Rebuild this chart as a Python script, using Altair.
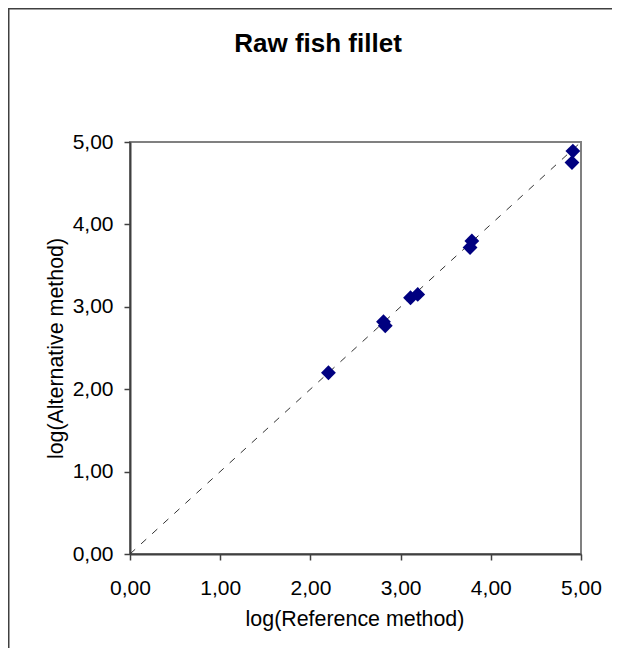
import altair as alt
import pandas as pd

# Data
ref_method = [2.20, 2.81, 2.83, 3.11, 3.19, 3.79, 3.77, 4.91, 4.90]
alt_method = [2.20, 2.82, 2.77, 3.11, 3.15, 3.80, 3.72, 4.89, 4.75]
line_x = [0.0, 5.0]
line_y = [0.0, 5.0]
tick_values = [0, 1, 2, 3, 4, 5]
title_text = ["Raw fish fillet"]
x_title = "log(Reference method)"
y_title = "log(Alternative method)"

pts = pd.DataFrame({"ref": ref_method, "alt": alt_method})
diag = pd.DataFrame({"ref": line_x, "alt": line_y})
ttl = pd.DataFrame({"t": title_text})

W, H = 451, 412
PL, PT, PR, PB = 122, 134, 31, 94
FONT = "Liberation Sans"
label_expr = "replace(format(datum.value, '.2f'), '.', ',')"

xscale = alt.Scale(domain=[0, 5], nice=False, zero=False)
yscale = alt.Scale(domain=[0, 5], nice=False, zero=False)

xaxis = alt.Axis(values=tick_values, labelExpr=label_expr, grid=False,
                 labelFlush=False, labelOverlap=False,
                 title=x_title, titleFont=FONT, titleFontSize=21.4,
                 titleFontWeight="normal", titleColor="black",
                 titleBaseline="middle", titleY=65, titleX=W / 2 - 1,
                 labelFont=FONT, labelFontSize=21, labelColor="black",
                 labelPadding=17, tickSize=6, tickColor="#404040", tickWidth=1.5,
                 domainColor="#404040", domainWidth=2)
yaxis = alt.Axis(values=tick_values, labelExpr=label_expr, grid=False,
                 labelFlush=False, labelOverlap=False,
                 title=y_title, titleFont=FONT, titleFontSize=21.4,
                 titleFontWeight="normal", titleColor="black",
                 titleBaseline="middle", titleX=-74, titleY=H / 2,
                 titleAngle=270, titleAlign="center",
                 labelFont=FONT, labelFontSize=21, labelColor="black",
                 labelPadding=11, tickSize=6, tickColor="#404040", tickWidth=1.5,
                 domainColor="#404040", domainWidth=2)

line = alt.Chart(diag).mark_line(color="#333333", strokeWidth=1,
                                 strokeDash=[7, 8]).encode(
    x=alt.X("ref:Q", scale=xscale, axis=xaxis),
    y=alt.Y("alt:Q", scale=yscale, axis=yaxis),
)

points = alt.Chart(pts).mark_point(shape="diamond", filled=True, size=220,
                                   color="#000080", opacity=1).encode(
    x=alt.X("ref:Q", scale=xscale),
    y=alt.Y("alt:Q", scale=yscale),
)

title = alt.Chart(ttl).mark_text(font=FONT, fontSize=26, fontWeight="bold",
                                 color="black", align="center",
                                 baseline="middle").encode(
    text="t:N",
    x=alt.value(188),
    y=alt.value(-98),
)

left_border = alt.Chart(ttl).mark_rule(color="#404040", strokeWidth=2).encode(
    x=alt.value(-121.5), x2=alt.value(-121.5),
    y=alt.value(-134), y2=alt.value(H + PB),
)
top_border = alt.Chart(ttl).mark_rule(color="#404040", strokeWidth=2).encode(
    x=alt.value(-122), x2=alt.value(W + PR),
    y=alt.value(-133.5), y2=alt.value(-133.5),
)

chart = alt.layer(line, points, title, left_border, top_border).properties(
    width=W, height=H,
    autosize=alt.AutoSizeParams(type="none"),
    padding={"left": PL, "top": PT, "right": PR, "bottom": PB},
).configure_view(stroke="#808080", strokeWidth=2)

chart.save("out.html", embed_options={"renderer": "svg", "actions": False})
